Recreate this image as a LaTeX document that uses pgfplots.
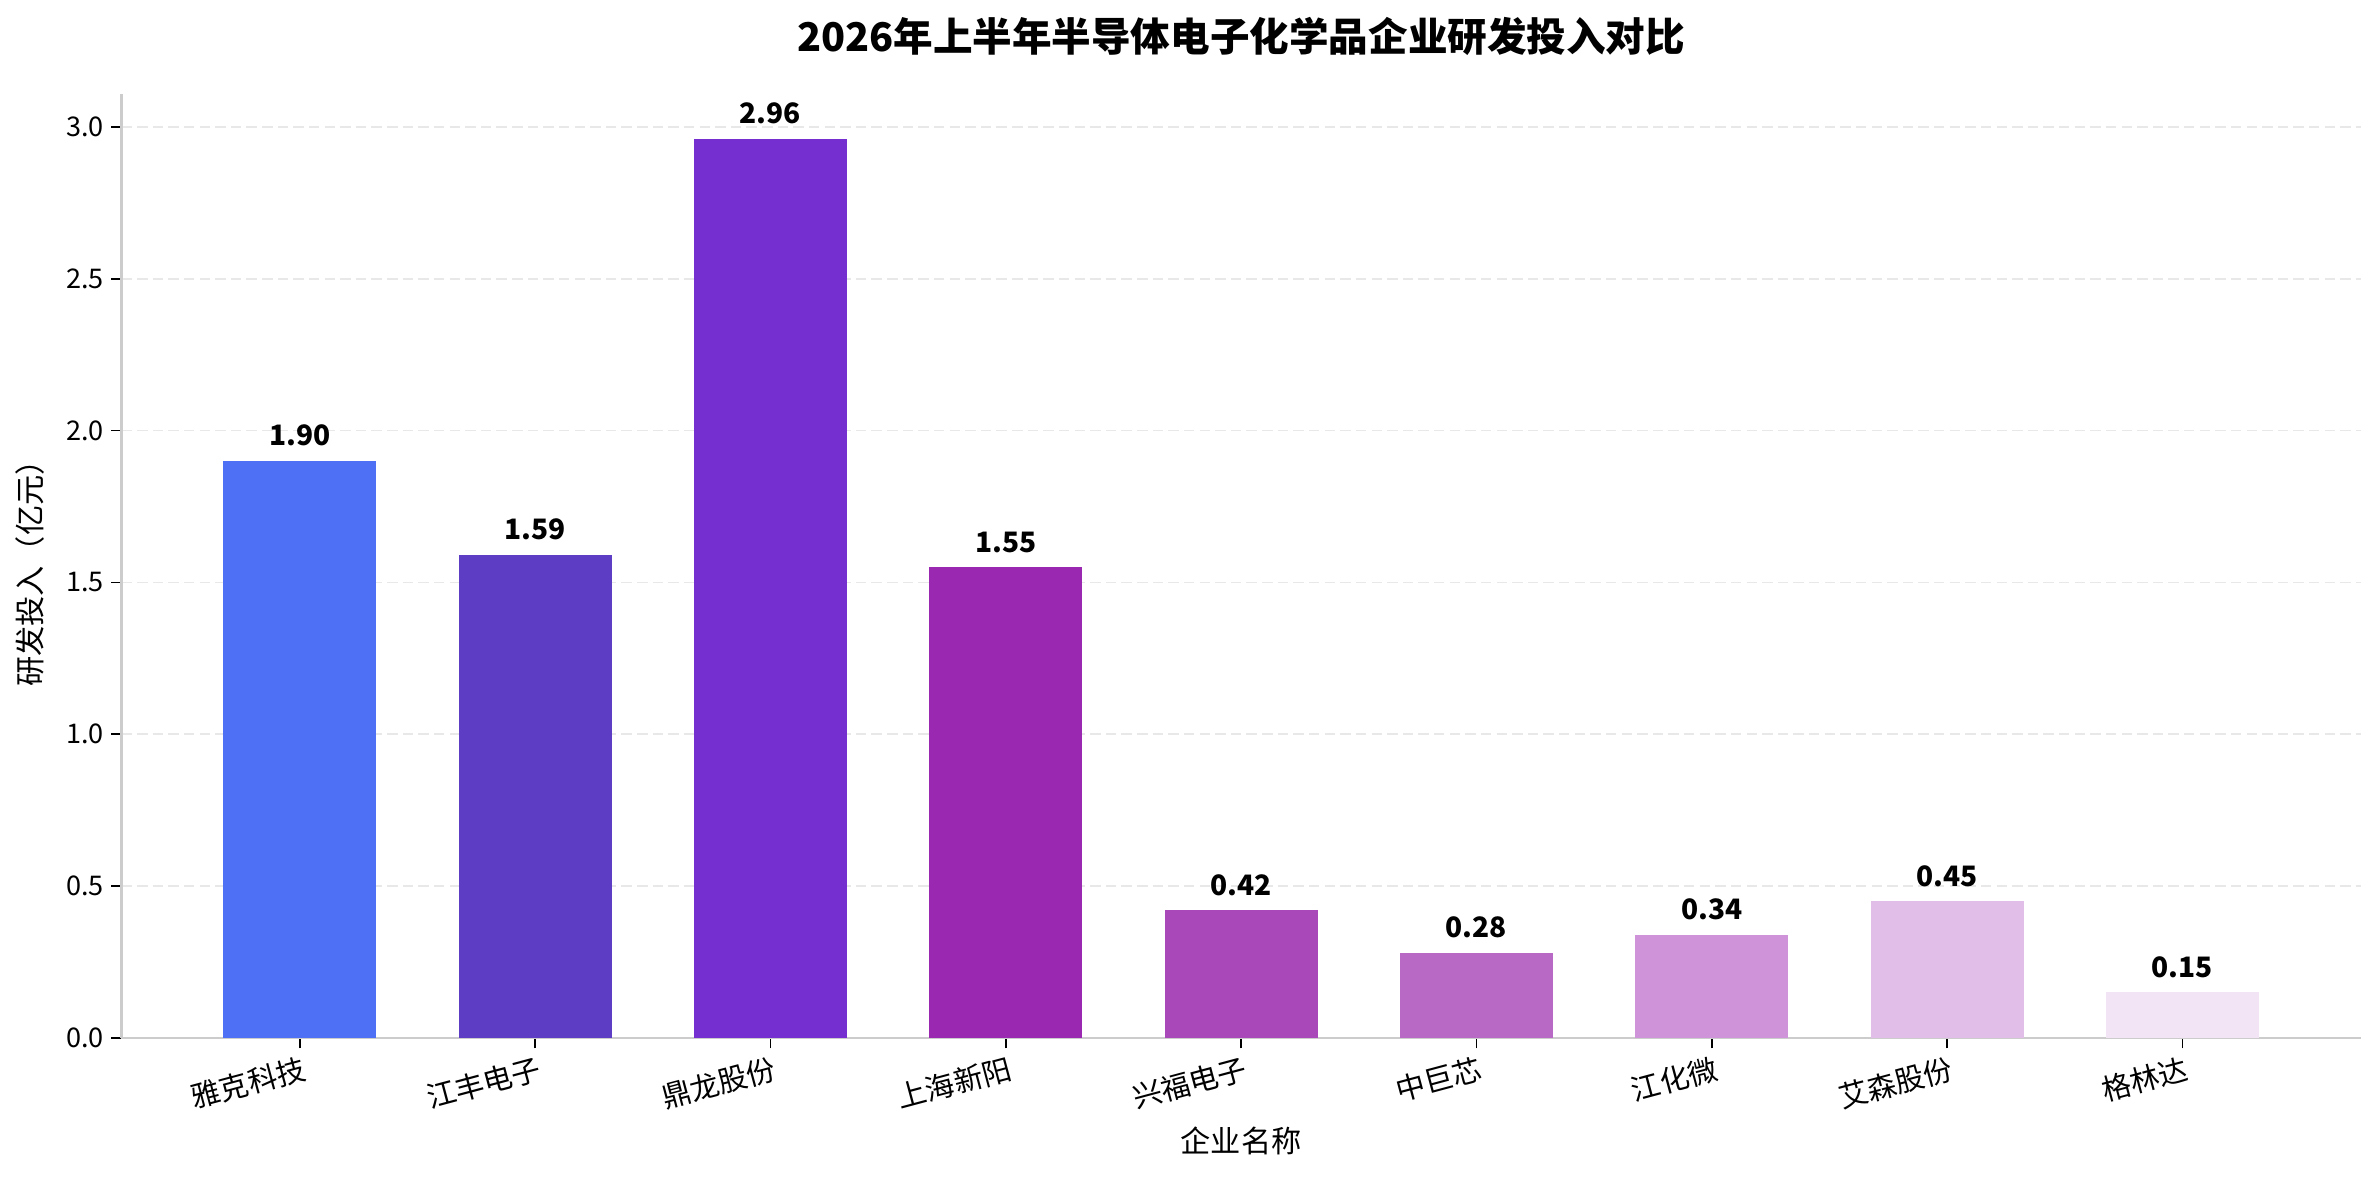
\documentclass[border=0pt]{standalone}
\usepackage{fontspec}
\setmainfont{Noto Sans CJK SC}
\usepackage{pgfplots}
\pgfplotsset{compat=1.18}
\definecolor{c1}{HTML}{4E70F4}
\definecolor{c2}{HTML}{5C3DC4}
\definecolor{c3}{HTML}{752ED0}
\definecolor{c4}{HTML}{9B28B0}
\definecolor{c5}{HTML}{A948B9}
\definecolor{c6}{HTML}{B869C6}
\definecolor{c7}{HTML}{CE93D8}
\definecolor{c8}{HTML}{E1BEE7}
\definecolor{c9}{HTML}{F2E4F5}
\definecolor{spine}{HTML}{CCCCCC}
\definecolor{gridc}{HTML}{E8E8E8}
\begin{document}
\begin{tikzpicture}
\begin{axis}[
  scale only axis, width=1074.9pt, height=453pt,
  xmin=-0.7575, xmax=8.7575, ymin=0, ymax=3.108,
  ybar, bar width=0.65, bar shift=0pt,
  axis x line*=bottom, axis y line*=left,
  axis line style={-, draw=spine, line width=1pt},
  every outer x axis line/.append style={-},
  every outer y axis line/.append style={-},
  xtick={0,...,8},
  xticklabels={雅克科技,江丰电子,鼎龙股份,上海新阳,兴福电子,中巨芯,江化微,艾森股份,格林达},
  ytick={0,0.5,1.0,1.5,2.0,2.5,3.0},
  yticklabel style={font=\fontsize{13}{15}\selectfont, /pgf/number format/.cd, fixed, fixed zerofill, precision=1},
  /pgf/number format/assume math mode=true,
  tick style={black, line width=0.8pt},
  major tick length=5pt, tick align=outside,
  xticklabel style={font=\fontsize{14}{16}\selectfont, rotate=15, anchor=north east, xshift=2pt, yshift=-1pt, inner sep=2pt},
  ymajorgrids, grid style={gridc, dash pattern=on 5pt off 2.5pt, line width=0.8pt},
  xlabel={企业名称}, ylabel={研发投入（亿元）},
  every axis x label/.style={at={(rel axis cs:0.5,0)}, anchor=center, yshift=-49.5pt, font=\fontsize{14.5}{17}\selectfont},
  every axis y label/.style={at={(rel axis cs:0,0.5)}, rotate=90, anchor=center, yshift=43.7pt, font=\fontsize{14.5}{17}\selectfont},
  nodes near coords={\pgfmathprintnumber[fixed,fixed zerofill,precision=2]{\pgfplotspointmeta}},
  every node near coord/.append style={font=\bfseries\fontsize{13.5}{16}\selectfont, black, anchor=base, inner sep=0pt, yshift=7.3pt},
  clip=false,
]
\addplot[fill=c1, draw=none] coordinates {(0,1.90)};
\addplot[fill=c2, draw=none] coordinates {(1,1.59)};
\addplot[fill=c3, draw=none] coordinates {(2,2.96)};
\addplot[fill=c4, draw=none] coordinates {(3,1.55)};
\addplot[fill=c5, draw=none] coordinates {(4,0.42)};
\addplot[fill=c6, draw=none] coordinates {(5,0.28)};
\addplot[fill=c7, draw=none] coordinates {(6,0.34)};
\addplot[fill=c8, draw=none] coordinates {(7,0.45)};
\addplot[fill=c9, draw=none] coordinates {(8,0.15)};
\node[font=\bfseries\fontsize{19}{23}\selectfont, anchor=center] at (rel axis cs:0.5,1) [yshift=27.7pt] {2026年上半年半导体电子化学品企业研发投入对比};
\end{axis}
\pgfresetboundingbox
\path[use as bounding box] (-58.3pt,-67.2pt) rectangle (1083.6pt,498.2pt);
\end{tikzpicture}
\end{document}
